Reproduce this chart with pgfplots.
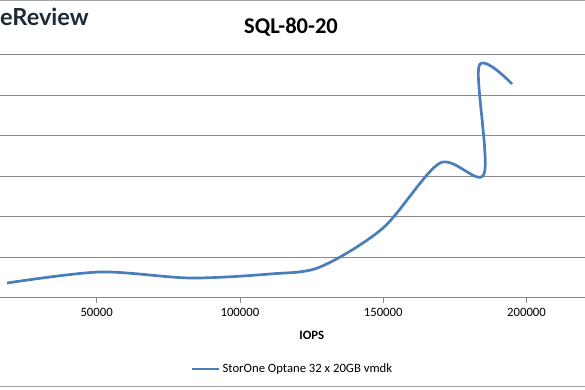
\documentclass[border=0pt]{standalone}
\usepackage{fontspec}
\setmainfont{Carlito}
\newfontfamily\logofont{Lato}
\usepackage{pgfplots}
\pgfplotsset{compat=1.18}
\definecolor{exblue}{HTML}{4A7EBB}
\definecolor{gridgray}{HTML}{8A8A8A}
\definecolor{framegray}{HTML}{A6A6A6}
\definecolor{logocol}{HTML}{1C2B36}
\begin{document}
\begin{tikzpicture}
\path[use as bounding box] (0,-92pt) rectangle (585pt,298pt);
\begin{axis}[
  at={(0,0)}, anchor=south west,
  scale only axis, width=585pt, height=243pt,
  xmin=16294, xmax=220410, ymin=0, ymax=6,
  axis x line*=bottom, axis y line*=left,
  x axis line style={-, gridgray, line width=1pt},
  y axis line style={draw=none},
  scaled x ticks=false,
  xtick={50000,100000,150000,200000},
  xticklabels={50000,100000,150000,200000},
  ytick={1,2,3,4,5,6},
  yticklabels={,,,,,},
  ytick style={draw=none},
  tick align=outside,
  major tick length=5pt,
  x tick style={gridgray, line width=0.8pt},
  x tick label style={font=\fontsize{12.7}{14}\selectfont, text=black, yshift=-2pt},
  ymajorgrids,
  grid style={gridgray, line width=1pt},
  xlabel={IOPS},
  xlabel style={at={(axis description cs:0.533,-0.152)}, anchor=center, font=\bfseries\fontsize{12.7}{14}\selectfont},
  legend style={at={(axis description cs:0.5,-0.292)}, anchor=center, draw=none, fill=none, font=\fontsize{12.7}{14}\selectfont},
  legend image code/.code={\draw[#1] (0pt,0pt) -- (27pt,0pt);},
]
\addplot[exblue, line width=2.7pt, smooth, tension=0.5] coordinates {
  (18737,0.370)
  (51186,0.642)
  (82589,0.494)
  (110502,0.593)
  (127948,0.765)
  (149930,1.728)
  (169818,3.333)
  (185170,3.062)
  (183425,5.728)
  (194939,5.284)
};
\addlegendentry{StorOne Optane 32 x 20GB vmdk}
\end{axis}
\node[font=\bfseries\fontsize{22.5}{26}\selectfont] at (291pt,271pt) {SQL-80-20};
\node[anchor=base west, inner sep=0pt, font=\logofont\bfseries\fontsize{23.5}{28}\selectfont, text=logocol] at (0pt,272pt) {eReview};
\draw[framegray, line width=1.2pt] (0,297.4pt) -- (585pt,297.4pt);
\draw[framegray, line width=1.2pt] (0,-88.7pt) -- (585pt,-88.7pt);
\end{tikzpicture}
\end{document}
